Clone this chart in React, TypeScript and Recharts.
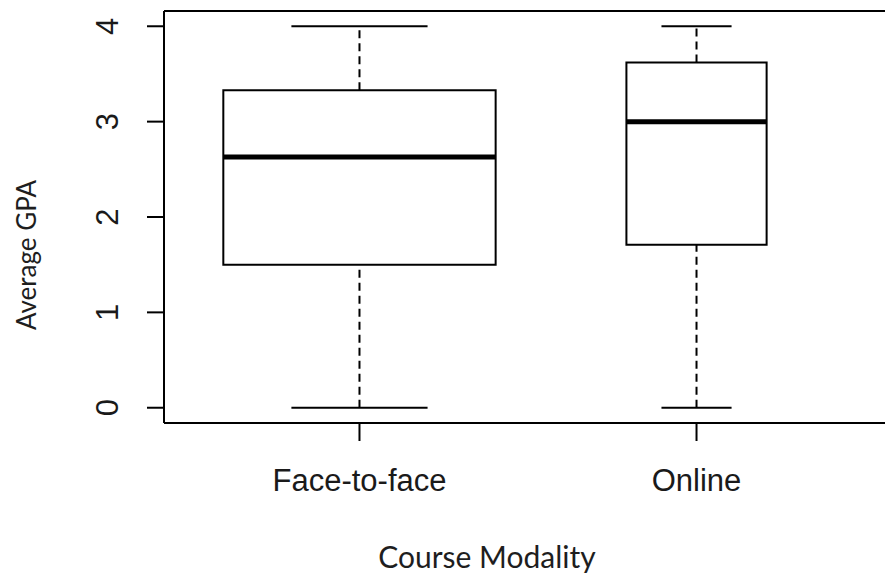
import React from "react";
import { ComposedChart, XAxis, YAxis, ReferenceArea, ReferenceLine, Label } from "recharts";

// ---- data ----
const categories = ["Face-to-face", "Online"];
const positions = [1, 2];
const whiskerLow = [0, 0];
const quartile1 = [1.5, 1.71];
const medians = [2.63, 3.0];
const quartile3 = [3.33, 3.62];
const whiskerHigh = [4, 4];
const yTicks = [0, 1, 2, 3, 4];
const xTitle = "Course Modality";
const yTitle = "Average GPA";

// ---- styles ----
const xDomain = [0.42, 2.58];
const yDomain = [-0.16, 4.16];
const boxHalfWidth = [0.404, 0.208]; // varwidth boxes
const stapleRatio = 0.5;
const INK = "#000";
const tickFont = "'Liberation Sans', Arial, sans-serif";
const titleFont = "Lato, 'Open Sans', sans-serif";

const YTick = (props: any) => {
  const { x, y, payload } = props;
  const bx = x - 29;
  return (
    <text
      x={bx}
      y={y}
      transform={`rotate(-90 ${bx} ${y})`}
      textAnchor="middle"
      fontFamily={tickFont}
      fontSize={31}
      fill="#1a1a1a"
    >
      {payload.value}
    </text>
  );
};

const XTick = (props: any) => {
  const { x, y, payload } = props;
  const idx = positions.indexOf(payload.value);
  return (
    <text x={x} y={y + 50} textAnchor="middle" fontFamily={tickFont} fontSize={31} fill="#1a1a1a">
      {idx >= 0 ? categories[idx] : ""}
    </text>
  );
};

const XTitle = (props: any) => {
  const vb = props.viewBox || { x: 164, y: 423, width: 728, height: 152 };
  return (
    <text x={vb.x + 323} y={vb.y + 145} textAnchor="middle" fontFamily={titleFont} fontSize={30} fill="#1e1e1e">
      {xTitle}
    </text>
  );
};

const YTitle = () => {
  const cx = 36;
  const cy = 255;
  return (
    <text
      x={cx}
      y={cy}
      transform={`rotate(-90 ${cx} ${cy})`}
      textAnchor="middle"
      fontFamily={titleFont}
      fontSize={26}
      fill="#1e1e1e"
    >
      {yTitle}
    </text>
  );
};

export default function App() {
  return (
    <div
      style={{
        position: "absolute",
        top: 0,
        left: 0,
        width: 885,
        height: 575,
        overflow: "hidden",
        background: "#fff",
      }}
    >
      <ComposedChart width={892} height={575} margin={{ top: 11, right: 0, bottom: 0, left: 0 }} data={[]}>
        <XAxis
          type="number"
          dataKey="pos"
          domain={xDomain}
          ticks={positions}
          interval={0}
          allowDataOverflow
          height={152}
          tickSize={18}
          tickMargin={0}
          tick={<XTick />}
          tickLine={{ stroke: INK, strokeWidth: 2 }}
          axisLine={{ stroke: INK, strokeWidth: 2 }}
        >
          <Label content={<XTitle />} />
        </XAxis>
        <YAxis
          type="number"
          domain={yDomain}
          ticks={yTicks}
          interval={0}
          allowDataOverflow
          width={164}
          tickSize={17}
          tickMargin={0}
          tick={<YTick />}
          tickLine={{ stroke: INK, strokeWidth: 2 }}
          axisLine={{ stroke: INK, strokeWidth: 2 }}
        >
          <Label content={<YTitle />} />
        </YAxis>

        {/* top frame line */}
        <ReferenceLine y={yDomain[1]} stroke={INK} strokeWidth={2} ifOverflow="visible" />

        {positions.map((p, i) => (
          <ReferenceLine
            key={`wu${i}`}
            segment={[
              { x: p, y: quartile3[i] },
              { x: p, y: whiskerHigh[i] },
            ]}
            stroke={INK}
            strokeWidth={2}
            strokeDasharray="8 5"
            ifOverflow="visible"
          />
        ))}
        {positions.map((p, i) => (
          <ReferenceLine
            key={`wl${i}`}
            segment={[
              { x: p, y: whiskerLow[i] },
              { x: p, y: quartile1[i] },
            ]}
            stroke={INK}
            strokeWidth={2}
            strokeDasharray="8 5"
            ifOverflow="visible"
          />
        ))}
        {positions.map((p, i) => (
          <ReferenceLine
            key={`cu${i}`}
            segment={[
              { x: p - boxHalfWidth[i] * stapleRatio, y: whiskerHigh[i] },
              { x: p + boxHalfWidth[i] * stapleRatio, y: whiskerHigh[i] },
            ]}
            stroke={INK}
            strokeWidth={2}
            ifOverflow="visible"
          />
        ))}
        {positions.map((p, i) => (
          <ReferenceLine
            key={`cl${i}`}
            segment={[
              { x: p - boxHalfWidth[i] * stapleRatio, y: whiskerLow[i] },
              { x: p + boxHalfWidth[i] * stapleRatio, y: whiskerLow[i] },
            ]}
            stroke={INK}
            strokeWidth={2}
            ifOverflow="visible"
          />
        ))}
        {positions.map((p, i) => (
          <ReferenceArea
            key={`box${i}`}
            x1={p - boxHalfWidth[i]}
            x2={p + boxHalfWidth[i]}
            y1={quartile1[i]}
            y2={quartile3[i]}
            fill="#fff"
            fillOpacity={1}
            stroke={INK}
            strokeWidth={2}
            ifOverflow="visible"
          />
        ))}
        {positions.map((p, i) => (
          <ReferenceLine
            key={`med${i}`}
            segment={[
              { x: p - boxHalfWidth[i], y: medians[i] },
              { x: p + boxHalfWidth[i], y: medians[i] },
            ]}
            stroke={INK}
            strokeWidth={5}
            ifOverflow="visible"
          />
        ))}
      </ComposedChart>
    </div>
  );
}
